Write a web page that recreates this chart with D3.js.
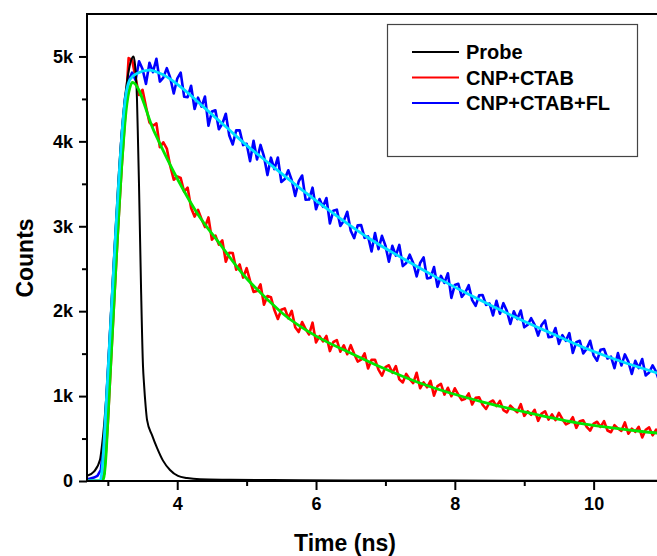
<!DOCTYPE html>
<html>
<head>
<meta charset="utf-8">
<script src="https://cdn.jsdelivr.net/npm/d3@7"></script>
<style>
  html, body { margin: 0; padding: 0; background: #ffffff; }
  svg { display: block; }
  text { font-family: "Liberation Sans", Arial, sans-serif; font-weight: bold; fill: #000; }
</style>
</head>
<body>
<svg id="chart" width="657" height="556"></svg>
<script>
// ---------- DATA ----------
const seriesNames = ["Probe", "CNP+CTAB", "CNP+CTAB+FL"];

// Instrument response (Probe), time in ns
const probeTime = [2.70, 2.80, 2.887, 2.916, 2.945, 2.974, 3.003, 3.031, 3.075, 3.147, 3.204, 3.276, 3.334, 3.370, 3.392, 3.420, 3.435, 3.449, 3.478, 3.507, 3.521, 3.545, 3.565, 3.637, 3.709, 3.795, 3.896, 4.011, 4.141, 4.328, 4.760, 5.770, 7.000, 9.000, 10.950];
const probeCounts = [60, 110, 250, 420, 650, 950, 1350, 1780, 2450, 3480, 4150, 4700, 4950, 5000, 4900, 4500, 4000, 3500, 2300, 1350, 1150, 880, 720, 540, 390, 240, 130, 60, 35, 20, 15, 10, 6, 4, 3];

// Decay histograms: channel start (ns) and channel width (ns)
const channelStart = 2.70;
const channelWidth = 0.05;

const ctabCounts = [
  0, 0, 0, 0, 0, 90, 680, 1480, 2250, 3010, 3700, 4300, 4980, 4960,
  4745, 4546, 4607, 4408, 4222, 4184, 4211, 3931, 3989, 3915,
  3708, 3548, 3586, 3568, 3407, 3454, 3215, 3114, 3192, 3085,
  2991, 3105, 2842, 2891, 2784, 2833, 2583, 2689, 2686, 2488,
  2550, 2396, 2507, 2358, 2227, 2239, 2316, 2076, 2179, 2165,
  2013, 1908, 2016, 2033, 1917, 2004, 1810, 1754, 1872, 1790,
  1726, 1865, 1632, 1706, 1644, 1708, 1530, 1637, 1659, 1523,
  1598, 1493, 1600, 1496, 1407, 1429, 1504, 1326, 1427, 1428,
  1313, 1240, 1341, 1363, 1274, 1354, 1197, 1161, 1262, 1200,
  1153, 1275, 1092, 1161, 1104, 1178, 1005, 1117, 1144, 1018,
  1098, 998, 1092, 1018, 952, 969, 1031, 901, 979, 985,
  898, 848, 926, 948, 882, 944, 835, 809, 887, 845,
  811, 905, 767, 821, 779, 838, 708, 794, 821, 723,
  785, 716, 802, 728, 667, 689, 751, 626, 704, 715,
  638, 593, 676, 698, 637, 704, 595, 574, 657, 620,
  591, 690, 557, 616, 579, 638, 513, 604, 631, 538,
  605, 536
];

const flCounts = [
  20, 30, 40, 60, 130, 520, 1280, 2000, 2740, 3420, 4080, 4520, 4720, 4810,
  4722, 4943, 4852, 4677, 4925, 4815, 4973, 4704, 4751, 4862,
  4747, 4564, 4738, 4810, 4525, 4521, 4655, 4381, 4515, 4410,
  4528, 4184, 4351, 4366, 4143, 4208, 4325, 4068, 3964, 4131,
  4129, 3956, 3971, 3767, 4007, 3787, 3958, 3823, 3603, 3808,
  3673, 3810, 3522, 3557, 3660, 3543, 3357, 3528, 3598, 3312,
  3315, 3455, 3200, 3320, 3229, 3333, 3033, 3182, 3196, 3003,
  3064, 3171, 2948, 2860, 3011, 3013, 2864, 2881, 2704, 2920,
  2731, 2887, 2772, 2583, 2769, 2655, 2781, 2531, 2568, 2665,
  2568, 2410, 2567, 2634, 2386, 2393, 2520, 2287, 2415, 2334,
  2447, 2156, 2308, 2323, 2169, 2220, 2306, 2130, 2062, 2186,
  2190, 2074, 2090, 1950, 2122, 1970, 2094, 2002, 1850, 1998,
  1907, 2008, 1810, 1840, 1917, 1839, 1712, 1838, 1891, 1693,
  1699, 1801, 1615, 1717, 1651, 1742, 1508, 1634, 1652, 1502,
  1559, 1652, 1480, 1417, 1546, 1555, 1443, 1464, 1329, 1506,
  1360, 1491, 1406, 1260, 1415, 1330, 1436, 1243, 1278, 1361,
  1287, 1166
];

// Fitted curves
const ctabFitTime = [2.70, 2.92, 2.945, 2.974, 3.003, 3.031, 3.060, 3.089, 3.118, 3.147, 3.175, 3.204, 3.233, 3.262, 3.291, 3.320, 3.355, 3.665, 4.011, 4.285, 4.616, 4.962, 5.337, 5.524, 6.014, 6.490, 6.965, 7.455, 7.931, 8.406, 9.083, 9.804, 10.380, 10.913, 10.950];
const ctabFitCounts = [0, 0, 50, 300, 750, 1200, 1650, 2100, 2550, 2980, 3380, 3760, 4080, 4350, 4530, 4640, 4695, 4120, 3545, 3157, 2790, 2420, 2110, 1970, 1700, 1510, 1330, 1166, 1036, 930, 800, 680, 615, 565, 562];

const flFitTime = [2.70, 2.887, 2.916, 2.945, 2.974, 3.003, 3.031, 3.060, 3.089, 3.118, 3.147, 3.175, 3.204, 3.233, 3.262, 3.291, 3.320, 3.420, 3.593, 3.810, 4.098, 4.386, 4.717, 5.005, 5.294, 5.582, 5.812, 6.302, 6.778, 7.253, 7.743, 8.219, 8.896, 9.372, 9.847, 10.337, 10.913, 10.950];
const flFitCounts = [0, 0, 120, 450, 880, 1300, 1720, 2150, 2580, 3000, 3400, 3770, 4100, 4370, 4560, 4670, 4730, 4800, 4840, 4780, 4610, 4400, 4160, 3950, 3760, 3570, 3420, 3120, 2850, 2620, 2395, 2190, 1920, 1745, 1575, 1425, 1272, 1262];

const xMajorTicks = [4, 6, 8, 10];
const xMinorTicks = [3, 5, 7, 9];
const yMajorTicks = [0, 1000, 2000, 3000, 4000, 5000];
const yTickLabels = ["0", "1k", "2k", "3k", "4k", "5k"];
const yMinorTicks = [500, 1500, 2500, 3500, 4500];

// ---------- LAYOUT ----------
const svg = d3.select("#chart");
const plotL = 87, plotR = 657, plotT = 14, plotB = 481;

const x = d3.scaleLinear().domain([2.70, 10.913]).range([plotL, plotR]);
const y = d3.scaleLinear().domain([0, 5500]).range([plotB, plotT]);

svg.append("defs").append("clipPath").attr("id", "plotclip")
  .append("rect").attr("x", plotL).attr("y", plotT).attr("width", plotR - plotL).attr("height", plotB - plotT);

const plot = svg.append("g").attr("clip-path", "url(#plotclip)");

const histPts = arr => arr.map((c, i) => [channelStart + i * channelWidth, c]);
const pairPts = (t, c) => t.map((v, i) => [v, c[i]]);

const lineLin = d3.line().x(d => x(d[0])).y(d => y(d[1]));
const lineSmooth = d3.line().x(d => x(d[0])).y(d => y(d[1])).curve(d3.curveMonotoneX);

plot.append("path").datum(histPts(ctabCounts)).attr("d", lineLin)
  .attr("fill", "none").attr("stroke", "#ff0000").attr("stroke-width", 2.6).attr("stroke-linejoin", "round");
plot.append("path").datum(histPts(flCounts)).attr("d", lineLin)
  .attr("fill", "none").attr("stroke", "#0000ff").attr("stroke-width", 2.6).attr("stroke-linejoin", "round");
plot.append("path").datum(pairPts(probeTime, probeCounts)).attr("d", lineSmooth)
  .attr("fill", "none").attr("stroke", "#000000").attr("stroke-width", 2);
plot.append("path").datum(pairPts(ctabFitTime, ctabFitCounts)).attr("d", lineSmooth)
  .attr("fill", "none").attr("stroke", "#00e600").attr("stroke-width", 2.8);
plot.append("path").datum(pairPts(flFitTime, flFitCounts)).attr("d", lineSmooth)
  .attr("fill", "none").attr("stroke", "#00e0ff").attr("stroke-width", 2.8);

// ---------- AXES ----------
const gx = svg.append("g").attr("transform", `translate(0,${plotB})`)
  .call(d3.axisBottom(x).tickValues(xMajorTicks).tickSize(9).tickPadding(7).tickSizeOuter(0).tickFormat(d3.format("d")));
const gxm = svg.append("g").attr("transform", `translate(0,${plotB})`)
  .call(d3.axisBottom(x).tickValues(xMinorTicks).tickSize(5).tickSizeOuter(0).tickFormat(""));
const gy = svg.append("g").attr("transform", `translate(${plotL},0)`)
  .call(d3.axisLeft(y).tickValues(yMajorTicks).tickSize(8).tickPadding(6).tickSizeOuter(0)
    .tickFormat((d, i) => yTickLabels[i]));
const gym = svg.append("g").attr("transform", `translate(${plotL},0)`)
  .call(d3.axisLeft(y).tickValues(yMinorTicks).tickSize(5).tickSizeOuter(0).tickFormat(""));

[gx, gxm, gy, gym].forEach(g => {
  g.select(".domain").remove();
  g.selectAll(".tick line").attr("stroke", "#000").attr("stroke-width", 2);
  g.selectAll("text").attr("font-size", 18).attr("font-weight", "bold")
    .attr("font-family", "'Liberation Sans', Arial, sans-serif").attr("fill", "#000");
});

// frame lines
svg.append("line").attr("x1", plotL).attr("x2", plotL).attr("y1", plotT - 1).attr("y2", plotB + 1)
  .attr("stroke", "#000").attr("stroke-width", 2);
svg.append("line").attr("x1", plotL - 1).attr("x2", plotR).attr("y1", plotB).attr("y2", plotB)
  .attr("stroke", "#000").attr("stroke-width", 2);
svg.append("line").attr("x1", plotL - 1).attr("x2", plotR).attr("y1", plotT).attr("y2", plotT)
  .attr("stroke", "#000").attr("stroke-width", 2);

// axis titles
svg.append("text").attr("x", 345).attr("y", 551).attr("text-anchor", "middle")
  .attr("font-size", 23).text("Time (ns)");
svg.append("text").attr("transform", "translate(33,258) rotate(-90)").attr("text-anchor", "middle")
  .attr("font-size", 23).text("Counts");

// ---------- LEGEND ----------
const legendColors = ["#000000", "#ff0000", "#0000ff"];
const lg = svg.append("g");
lg.append("rect").attr("x", 387.5).attr("y", 24.5).attr("width", 250).attr("height", 132)
  .attr("fill", "#fff").attr("stroke", "#444").attr("stroke-width", 1.2);
seriesNames.forEach((name, i) => {
  const yy = 52 + i * 25.5;
  lg.append("line").attr("x1", 412).attr("x2", 459).attr("y1", yy).attr("y2", yy)
    .attr("stroke", legendColors[i]).attr("stroke-width", 2);
  lg.append("text").attr("x", 466).attr("y", yy).attr("dy", "0.36em")
    .attr("font-size", 20).text(name);
});
</script>
</body>
</html>
